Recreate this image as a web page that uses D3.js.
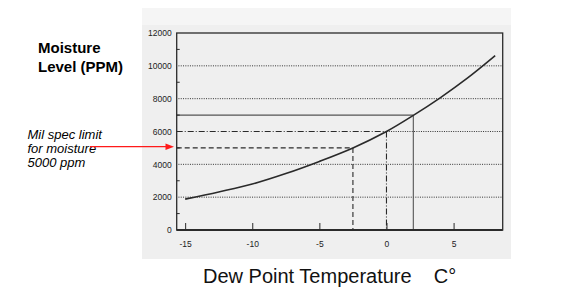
<!DOCTYPE html>
<html>
<head>
<meta charset="utf-8">
<script src="https://cdn.jsdelivr.net/npm/d3@7/dist/d3.min.js"></script>
<style>
  body { margin: 0; background: #fff; }
  svg { display: block; }
</style>
</head>
<body>
<script>
// dew point (C) vs moisture (ppm)
var dewPoint = [-15, -12.5, -10, -7.5, -5, -2.5, 0, 2, 4, 6, 8.1];
var moisture = [1880, 2320, 2800, 3440, 4180, 5000, 6000, 6980, 8050, 9230, 10620];
var yTicks = [0, 2000, 4000, 6000, 8000, 10000, 12000];
var yMinor = [1000, 3000, 5000, 7000, 9000, 11000];
var xTicks = [-15, -10, -5, 0, 5];
var gridVals = [2000, 4000, 8000, 10000];
// reading guides: [temperature, ppm, style]
var guides = [[-2.5, 5000, "dash"], [0, 6000, "dashdot"], [2, 7000, "solid"]];

var W = 582, H = 299;
var svg = d3.select("body").append("svg").attr("width", W).attr("height", H);

// scanned paper area
svg.append("rect").attr("x", 142).attr("y", 8).attr("width", 369).attr("height", 251).attr("fill", "#efefef");
svg.append("rect").attr("x", 142).attr("y", 8).attr("width", 369).attr("height", 17).attr("fill", "#f5f5f5");

var x = d3.scaleLinear().domain([-15.63, 8.66]).range([176.7, 502.7]);
var y = d3.scaleLinear().domain([0, 12000]).range([230, 33]);

var ink = "#2a2a2a";

// dotted grid
svg.selectAll(".grid").data(gridVals).enter().append("line")
  .attr("x1", x(-15.5)).attr("x2", x.range()[1])
  .attr("y1", function(d) { return y(d); }).attr("y2", function(d) { return y(d); })
  .attr("stroke", "#333").attr("stroke-width", 1).attr("stroke-dasharray", "1,1.3");
svg.append("line")
  .attr("x1", x(0)).attr("x2", x.range()[1])
  .attr("y1", y(6000)).attr("y2", y(6000))
  .attr("stroke", "#333").attr("stroke-width", 1).attr("stroke-dasharray", "1,1.3");

// guides
var dashes = { dash: "5,3", dashdot: "6,2,1,2", solid: null };
guides.forEach(function(g) {
  var col = g[2] == "solid" ? "#555" : ink;
  svg.append("line")
    .attr("x1", x.range()[0]).attr("x2", x(g[0]))
    .attr("y1", y(g[1])).attr("y2", y(g[1]))
    .attr("stroke", col).attr("stroke-width", 1.1).attr("stroke-dasharray", dashes[g[2]]);
  svg.append("line")
    .attr("x1", x(g[0])).attr("x2", x(g[0]))
    .attr("y1", y(g[1])).attr("y2", y(0))
    .attr("stroke", col).attr("stroke-width", 1.1).attr("stroke-dasharray", dashes[g[2]]);
});

// curve
var line = d3.line()
  .x(function(d, i) { return x(dewPoint[i]); })
  .y(function(d) { return y(d); })
  .curve(d3.curveCatmullRom);
svg.append("path").datum(moisture).attr("d", line)
  .attr("fill", "none").attr("stroke", ink).attr("stroke-width", 1.6);

// frame
svg.append("rect")
  .attr("x", x.range()[0]).attr("y", y(12000))
  .attr("width", x.range()[1] - x.range()[0]).attr("height", y(0) - y(12000))
  .attr("fill", "none").attr("stroke", ink).attr("stroke-width", 1.3);
svg.append("line").attr("x1", x.range()[0]).attr("x2", x.range()[1])
  .attr("y1", y(0)).attr("y2", y(0)).attr("stroke", ink).attr("stroke-width", 2);

// axes (plain hyphen minus like the scan)
var plain = function(d) { return String(d); };
var yAxis = d3.axisLeft(y).tickValues(yTicks).tickSize(0).tickPadding(5).tickFormat(plain);
var gy = svg.append("g").attr("transform", "translate(" + x.range()[0] + ",0)").call(yAxis);
gy.select(".domain").remove();
gy.selectAll("text").attr("font-family", "Liberation Sans, Arial, sans-serif").attr("font-size", 8.5).attr("fill", "#222");

svg.selectAll(".ymin").data(yMinor).enter().append("line")
  .attr("x1", x.range()[0]).attr("x2", x.range()[0] + 3)
  .attr("y1", function(d) { return y(d); }).attr("y2", function(d) { return y(d); })
  .attr("stroke", ink);

var xAxis = d3.axisBottom(x).tickValues(xTicks).tickSizeInner(-7).tickSizeOuter(0).tickPadding(11).tickFormat(plain);
var gx = svg.append("g").attr("transform", "translate(0," + y(0) + ")").call(xAxis);
gx.select(".domain").remove();
gx.selectAll("line").attr("stroke", ink);
gx.selectAll("text").attr("font-family", "Liberation Sans, Arial, sans-serif").attr("font-size", 8.5).attr("fill", "#222");

// titles
var font = "Liberation Sans, Arial, sans-serif";
var yt = svg.append("text").attr("font-family", font).attr("font-weight", "bold").attr("font-size", 15);
yt.append("tspan").attr("x", 38).attr("y", 52.5).text("Moisture");
yt.append("tspan").attr("x", 38).attr("y", 72).text("Level (PPM)");

var note = svg.append("text").attr("font-family", font).attr("font-style", "italic").attr("font-size", 13);
["Mil spec limit", "for moisture", "5000 ppm"].forEach(function(t, i) {
  note.append("tspan").attr("x", 27.5).attr("y", 138.5 + i * 14.4).text(t);
});

svg.append("text").attr("x", 203).attr("y", 283).attr("font-family", font).attr("font-size", 20)
  .attr("fill", "#111").attr("xml:space", "preserve").text("Dew Point Temperature    C\u00b0");

// red arrow
svg.append("line").attr("x1", 90).attr("x2", 167).attr("y1", 146.7).attr("y2", 146.7)
  .attr("stroke", "#ff1a1a").attr("stroke-width", 1.2);
svg.append("path").attr("d", d3.line()([[165.5, 143.5], [174, 146.7], [165.5, 150]])).attr("fill", "#ff1a1a");
</script>
</body>
</html>
